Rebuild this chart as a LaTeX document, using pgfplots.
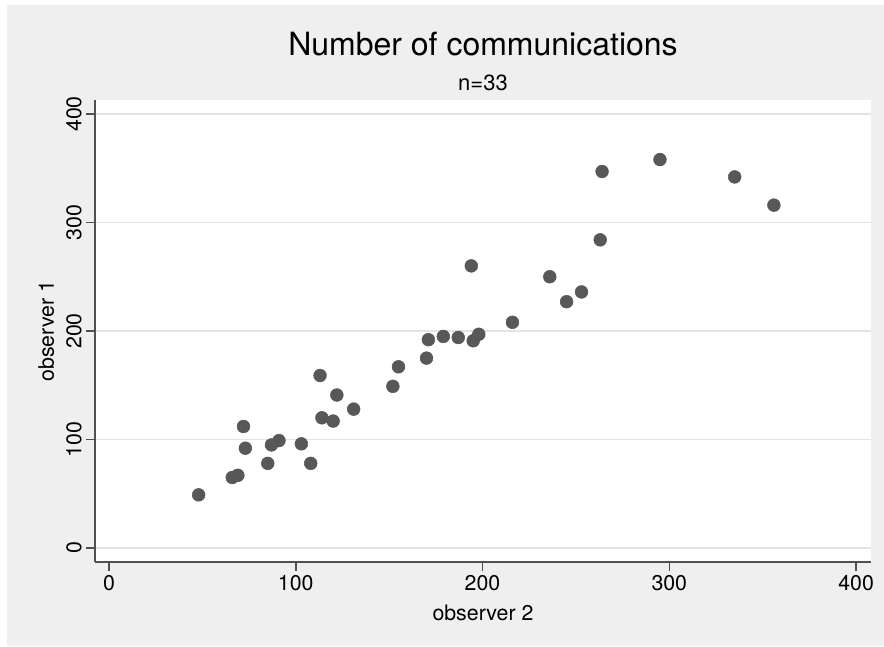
\documentclass[border=0pt]{standalone}
\usepackage{pgfplots}
\pgfplotsset{compat=1.18}
\usepackage{fontspec}
\setmainfont{TeX Gyre Heros}
\definecolor{bggray}{RGB}{239,239,239}
\definecolor{gridgray}{RGB}{228,228,228}
\definecolor{axgray}{RGB}{80,80,80}
\definecolor{markgray}{RGB}{88,88,88}
\begin{document}
\begin{tikzpicture}
\fill[white] (-71.25pt,-63pt) rectangle (591.75pt,421.5pt);
\fill[bggray] (-66pt,-63pt) rectangle (591.75pt,417.75pt);
\useasboundingbox (-71.25pt,-63pt) rectangle (591.75pt,421.5pt);
\begin{axis}[
  at={(0,0)}, anchor=south west,
  scale only axis, width=582pt, height=346.5pt,
  xmin=-7.5, xmax=408, ymin=-12.9, ymax=412.9,
  axis x line*=bottom, axis y line*=left,
  axis line style={-, axgray, line width=1.1pt},
  axis background/.style={fill=white},
  xtick={0,100,200,300,400}, ytick={0,100,200,300,400},
  tick align=outside, major tick length=6.4pt,
  tick style={axgray, line width=1.1pt},
  ymajorgrids, grid style={gridgray, line width=1.3pt},
  /pgf/number format/assume math mode=true,
  ticklabel style={font=\fontsize{16}{18}\selectfont, text=black},
  yticklabel style={rotate=90, anchor=south},
  clip=false,
]
\addplot[only marks, mark=*, mark size=4.8pt, mark options={fill=markgray, draw=markgray}] coordinates {
(48,49) (66,65) (69,67) (72,112) (73,92) (85,78) (87,95) (91,99)
(103,96) (108,78) (113,159) (114,120) (120,117) (122,141) (131,128)
(152,149) (155,167) (170,175) (171,192) (179,195) (187,194) (194,260)
(195,191) (198,197) (216,208) (236,250) (245,227) (253,236) (263,284)
(264,347) (295,358) (335,342) (356,316)
};
\end{axis}
\node[anchor=base, font=\fontsize{24}{28}\selectfont] at ([yshift=33pt]current axis.north) {Number of communications};
\node[anchor=base, font=\fontsize{16.5}{19}\selectfont] at ([yshift=6.75pt]current axis.north) {n=33};
\node[anchor=base, font=\fontsize{16}{18}\selectfont] at ([yshift=-43.5pt]current axis.south) {observer 2};
\node[anchor=base, rotate=90, font=\fontsize{16}{18}\selectfont] at ([xshift=-30.75pt]current axis.west) {observer 1};
\end{tikzpicture}
\end{document}
